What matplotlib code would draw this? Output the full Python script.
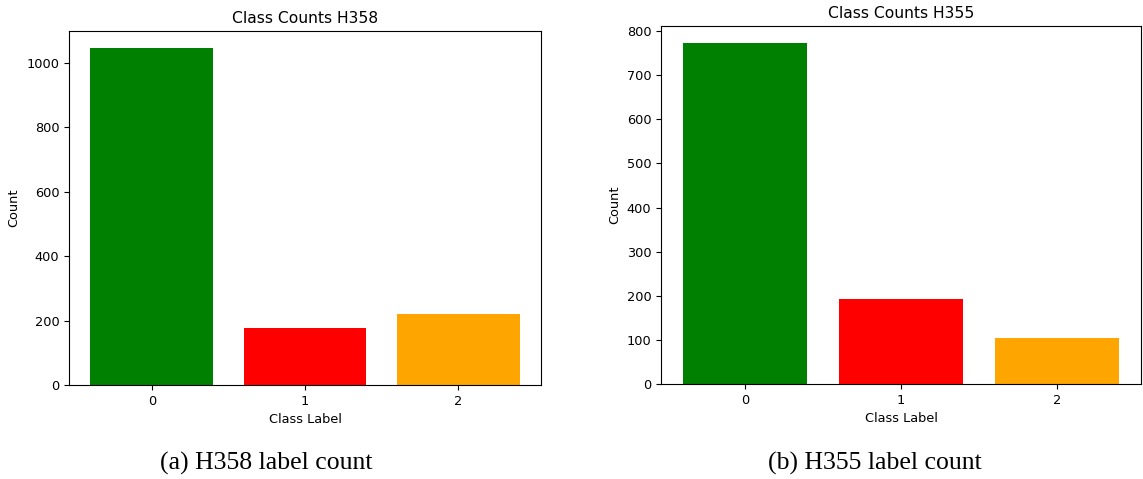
import matplotlib
matplotlib.use("Agg")
import matplotlib.pyplot as plt

# class counts
labels = ["0", "1", "2"]
colors = ["green", "red", "orange"]
h358_counts = [1046, 177, 220]
h355_counts = [773, 193, 104]

plt.rcParams.update({"font.family": "DejaVu Sans", "font.size": 9.3})

fig = plt.figure(figsize=(11.43, 4.79), dpi=100)
ax1 = fig.add_axes([69/1143, 94/479, 472/1143, 354/479])
ax2 = fig.add_axes([661/1143, 95/479, 480/1143, 358/479])

for ax, counts, name in [(ax1, h358_counts, "H358"), (ax2, h355_counts, "H355")]:
    ax.bar(range(len(labels)), counts, color=colors)
    ax.set_xticks(range(len(labels)))
    ax.set_xticklabels(labels)
    ax.set_xlabel("Class Label")
    ax.set_ylabel("Count")
    ax.set_title(f"Class Counts {name}")

fig.text(266/1143, 1 - 463/479, "(a) H358 label count", ha="center", va="center",
         fontsize=18.5, family="Liberation Serif")
fig.text(875/1143, 1 - 463/479, "(b) H355 label count", ha="center", va="center",
         fontsize=18.5, family="Liberation Serif")

fig.savefig("out.png", dpi=100, facecolor="white")
